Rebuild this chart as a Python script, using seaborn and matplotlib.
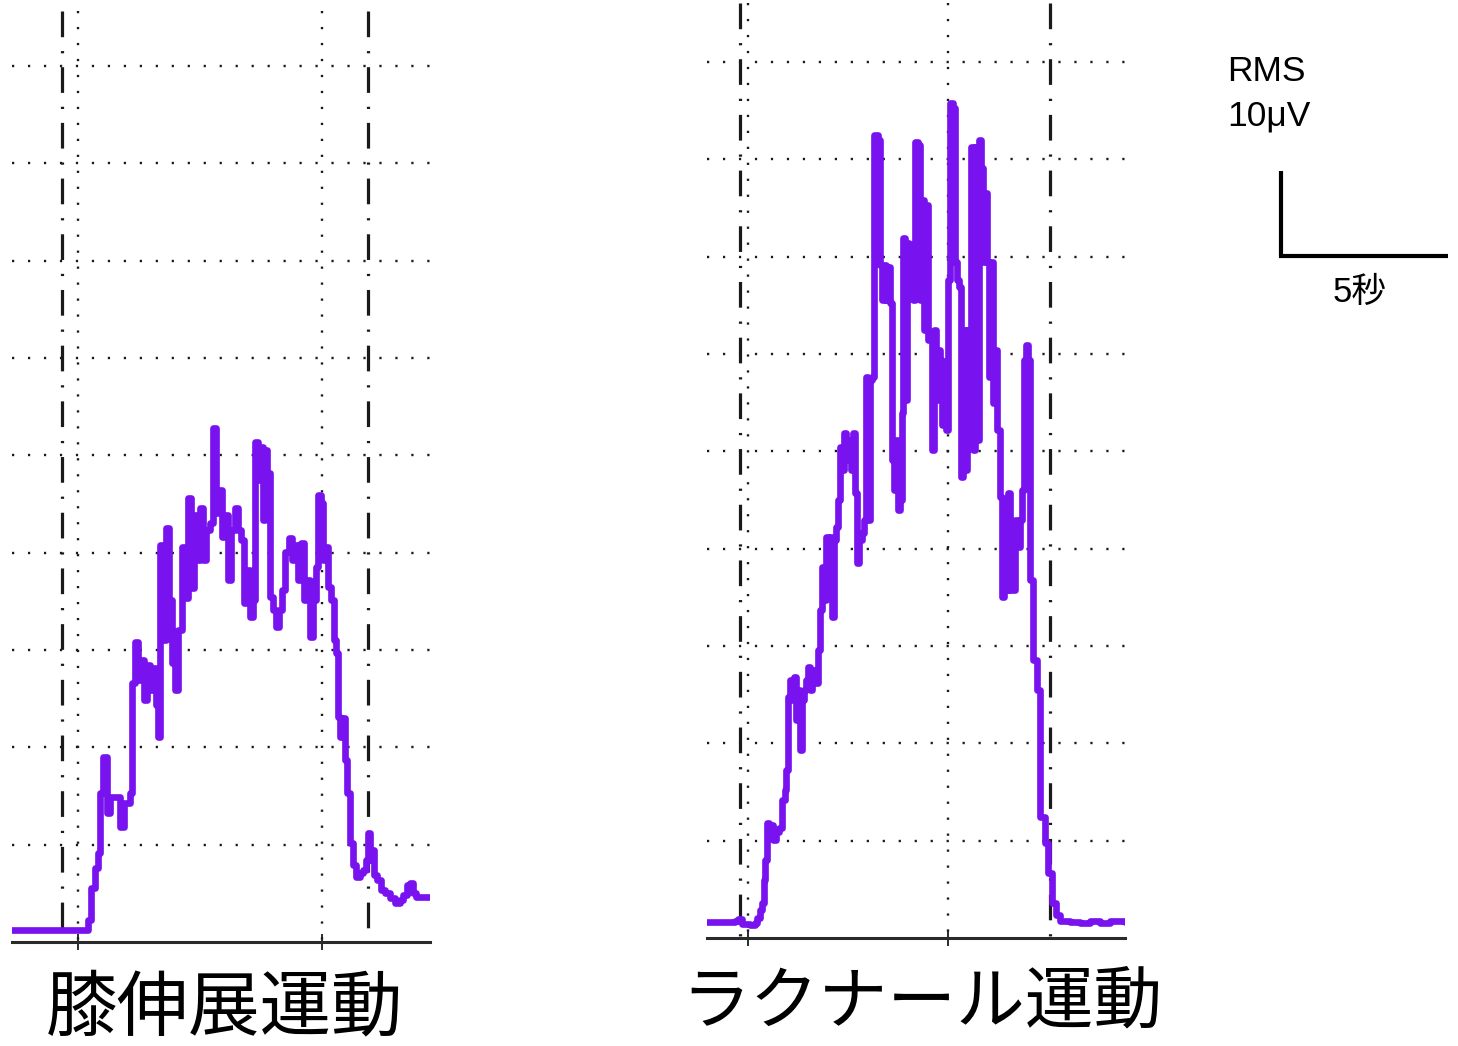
import numpy as np
import matplotlib
matplotlib.use("Agg")
import matplotlib.pyplot as plt
import seaborn as sns

# ---- RMS envelopes: time (s) and amplitude (µV) ----
knee_t = [0.00, 2.19, 2.28, 2.37, 2.49, 2.57, 2.63, 2.72, 2.81, 2.84, 2.93, 3.14, 3.23, 3.35,
          3.53, 3.59, 3.68, 3.77, 3.86, 3.95, 4.04, 4.13, 4.22, 4.31, 4.37, 4.43, 4.52, 4.61,
          4.70, 4.79, 4.88, 4.97, 5.09, 5.18, 5.27, 5.36, 5.45, 5.54, 5.63, 5.72, 5.81, 5.93,
          6.02, 6.11, 6.20, 6.29, 6.38, 6.47, 6.56, 6.68, 6.77, 6.86, 6.95, 7.04, 7.13, 7.22,
          7.28, 7.37, 7.43, 7.51, 7.57, 7.63, 7.72, 7.81, 7.90, 7.99, 8.08, 8.17, 8.29, 8.38,
          8.47, 8.56, 8.65, 8.74, 8.83, 8.92, 9.01, 9.10, 9.16, 9.25, 9.31, 9.37, 9.46, 9.55,
          9.64, 9.70, 9.76, 9.82, 9.88, 9.97, 10.03, 10.12, 10.21, 10.30, 10.42, 10.51, 10.60,
          10.66, 10.72, 10.78, 10.84, 10.93, 11.05, 11.17, 11.32, 11.47, 11.62, 11.71, 11.83,
          11.92, 12.01, 12.10, 12.51]
knee_uv = [1.4, 1.4, 2.6, 6.4, 8.7, 10.5, 17.5, 21.8, 21.8, 15.2, 17.1, 17.1, 13.5, 16.4,
           17.5, 30.5, 35.3, 30.8, 33.2, 28.5, 32.6, 29.6, 32.2, 27.9, 24.1, 46.7, 35.5, 48.7,
           40.2, 32.8, 29.6, 36.7, 46.5, 40.5, 52.2, 41.6, 50.2, 44.9, 51.1, 44.9, 48.5, 49.3,
           60.5, 50.5, 53.2, 47.6, 50.2, 42.6, 48.5, 51.1, 48.5, 47.3, 39.9, 43.8, 38.2, 40.2,
           58.8, 54.4, 58.2, 49.6, 57.9, 55.2, 40.6, 39.1, 37.1, 39.1, 41.4, 45.9, 47.5, 44.9,
           46.7, 42.6, 46.9, 40.2, 42.6, 35.9, 40.2, 44.1, 52.6, 51.6, 44.9, 46.5, 41.8, 40.2,
           35.5, 34.0, 26.5, 24.1, 26.4, 21.4, 17.5, 11.6, 9.1, 7.6, 8.1, 8.5, 9.6,
           12.8, 9.6, 10.8, 7.9, 7.3, 6.1, 5.8, 5.2, 4.6, 4.9, 5.5, 6.7,
           6.9, 5.8, 5.3, 5.3]

lacnar_t = [0.00, 0.69, 0.84, 0.93, 1.05, 1.29, 1.44, 1.50, 1.59, 1.65, 1.71, 1.74, 1.80, 1.86,
            1.92, 1.98, 2.07, 2.16, 2.25, 2.34, 2.37, 2.43, 2.49, 2.54, 2.60, 2.66, 2.72, 2.78,
            2.84, 2.90, 2.96, 3.02, 3.08, 3.14, 3.23, 3.32, 3.38, 3.44, 3.50, 3.56, 3.62, 3.68,
            3.74, 3.80, 3.86, 3.92, 3.98, 4.04, 4.10, 4.16, 4.22, 4.31, 4.37, 4.43, 4.49, 4.55,
            4.64, 4.70, 4.76, 4.82, 4.88, 4.94, 5.00, 5.06, 5.12, 5.18, 5.24, 5.30, 5.36, 5.42,
            5.48, 5.54, 5.60, 5.66, 5.72, 5.78, 5.84, 5.87, 5.93, 5.99, 6.05, 6.11, 6.17, 6.23,
            6.32, 6.38, 6.44, 6.50, 6.56, 6.62, 6.68, 6.74, 6.80, 6.86, 6.92, 6.98, 7.04, 7.10,
            7.16, 7.22, 7.28, 7.37, 7.43, 7.49, 7.54, 7.60, 7.66, 7.72, 7.78, 7.84, 7.90, 7.96,
            8.02, 8.08, 8.14, 8.20, 8.26, 8.32, 8.38, 8.44, 8.50, 8.56, 8.62, 8.68, 8.77, 8.83,
            8.89, 8.95, 9.01, 9.07, 9.16, 9.22, 9.31, 9.37, 9.43, 9.49, 9.55, 9.61, 9.67, 9.76,
            9.88, 9.97, 10.12, 10.21, 10.33, 10.45, 10.57, 10.87, 11.17, 11.47, 11.77, 12.07,
            12.51]
lacnar_uv = [1.9, 1.9, 2.0, 2.2, 1.6, 1.5, 1.8, 2.4, 3.3, 4.1, 6.8, 9.2, 13.5, 12.1,
             13.3, 11.5, 12.5, 12.9, 16.2, 17.4, 19.8, 28.4, 30.4, 28.0, 30.7, 25.6, 29.2, 22.1,
             28.0, 29.2, 30.4, 31.9, 29.2, 31.5, 30.0, 33.9, 38.6, 43.6, 39.8, 47.2, 44.5, 47.2,
             37.8, 46.8, 48.4, 51.5, 57.8, 55.1, 59.4, 56.2, 58.6, 55.1, 59.4, 52.4, 44.1, 46.8,
             47.6, 49.2, 66.0, 49.2, 65.6, 66.0, 94.5, 94.5, 93.9, 79.2, 75.1, 79.2, 75.1, 78.9,
             74.7, 56.2, 52.7, 58.6, 50.4, 51.5, 61.8, 82.4, 63.3, 81.8, 76.2, 80.9, 75.1, 93.6,
             93.3, 75.1, 86.8, 71.5, 86.2, 70.4, 71.2, 57.4, 71.5, 63.3, 69.2, 68.0, 60.4, 67.6,
             59.8, 77.4, 98.2, 97.6, 79.5, 77.4, 76.6, 54.2, 71.5, 55.1, 71.5, 63.3, 93.1, 57.4,
             93.1, 58.6, 93.9, 90.6, 79.5, 87.6, 79.5, 66.0, 79.5, 62.9, 69.2, 59.8, 51.9, 40.1,
             51.5, 40.9, 52.4, 40.9, 40.9, 49.2, 46.0, 49.2, 52.7, 68.0, 69.8, 68.0, 42.1, 32.7,
             29.2, 14.2, 11.2, 7.6, 4.1, 2.7, 2.0, 1.9, 1.8, 2.0, 1.8, 2.0,
             1.9]

# event markers (s)
knee_dashdot = [1.50, 10.66]
knee_dotted = [1.98, 9.28]
lacnar_dashdot = [0.99, 10.27]
lacnar_dotted = [1.23, 7.22]

panel_labels = ["膝伸展運動", "ラクナール運動"]
scale_amp_label = ["RMS", "10μV"]
scale_time_label = "5秒"
scale_uv = 10
scale_s = 5

# ---- styling ----
SPAN = 12.51          # seconds shown per panel
GRID_UV = 11.45       # vertical grid step (µV)
PURPLE = "#7812EE"
INK = "#1a1a1a"

sns.set_theme(style="white")
plt.rcParams["font.family"] = ["Liberation Sans", "Noto Sans CJK JP", "DejaVu Sans"]
plt.rcParams["lines.scale_dashes"] = False

W, H = 1458, 1046
fig = plt.figure(figsize=(W / 100, H / 100), dpi=100)
fig.patch.set_facecolor("white")


def px_axes(x0, x1, y_zero, ylo, yhi, px_per_uv=8.5):
    """Axes placed so that y=0 sits at pixel row y_zero (from top)."""
    top = y_zero - yhi * px_per_uv
    bottom = y_zero - ylo * px_per_uv
    return fig.add_axes([x0 / W, 1 - bottom / H, (x1 - x0) / W, (bottom - top) / H])


def draw_panel(ax, t, uv, dashdot, dotted, ytop):
    ax.set_xlim(0, SPAN)
    ax.set_ylim(-2, ytop)
    dot_style = (0, (1.6, 9.9))
    for k in range(1, 10):
        ax.plot([0, SPAN], [k * GRID_UV] * 2, color=INK, lw=1.7, ls=dot_style,
                solid_capstyle="butt", dash_capstyle="butt", zorder=1)
    for x in dotted:
        ax.plot([x, x], [ytop, 0], color=INK, lw=1.7, ls=dot_style,
                dash_capstyle="butt", zorder=1)
    for x in dashdot:
        ax.plot([x, x], [ytop, 0], color=INK, lw=2.3, ls=(0, (18.5, 10.0, 1.6, 10.0)),
                dash_capstyle="butt", zorder=1)
    sns.lineplot(x=t, y=uv, ax=ax, color=PURPLE, lw=4.8, drawstyle="steps-post",
                 estimator=None, sort=False, zorder=3)
    for side in ("left", "right", "top"):
        ax.spines[side].set_visible(False)
    ax.spines["bottom"].set_position(("data", 0))
    ax.spines["bottom"].set_color("#2a2a2a")
    ax.spines["bottom"].set_linewidth(2.2)
    ax.set_xticks(dotted)
    ax.tick_params(axis="x", direction="inout", length=11, width=1.3, color=INK,
                   bottom=True, labelbottom=False)
    ax.set_yticks([])
    ax.set_xlabel("")
    ax.set_ylabel("")
    ax.patch.set_alpha(0)


ax_knee = px_axes(12, 430, 942, -2, 109.5)
draw_panel(ax_knee, knee_t, knee_uv, knee_dashdot, knee_dotted, 109.5)

ax_lac = px_axes(707, 1125, 938, -2, 110.0)
draw_panel(ax_lac, lacnar_t, lacnar_uv, lacnar_dashdot, lacnar_dotted, 110.0)

# panel captions
cjk = ["Noto Sans CJK JP", "DejaVu Sans"]
fig.text(225 / W, 1 - 1029 / H, panel_labels[0], ha="center", va="baseline",
         fontsize=51.5, family=cjk, color="black")
fig.text(922 / W, 1 - 1022 / H, panel_labels[1], ha="center", va="baseline",
         fontsize=49.5, family=cjk, color="black")

# calibration bar: 10 µV vertical, 5 s horizontal
ax_sc = fig.add_axes([1281 / W, 1 - 266 / H, (W - 1281) / W, 106 / H])
ax_sc.set_xlim(0, (W - 1281) / 33.4)
ax_sc.set_ylim(-10 / 8.5, 96 / 8.5)
ax_sc.plot([0, 0, scale_s], [scale_uv, 0, 0], color="black", lw=3.0,
           solid_joinstyle="miter", solid_capstyle="butt", clip_on=False)
ax_sc.axis("off")

latin = ["Liberation Sans", "Noto Sans CJK JP", "DejaVu Sans"]
fig.text(1227 / W, 1 - 81 / H, scale_amp_label[0], ha="left", va="baseline",
         fontsize=25.5, family=latin, color="black")
fig.text(1227 / W, 1 - 125 / H, scale_amp_label[1], ha="left", va="baseline",
         fontsize=25.5, family=latin, color="black")
fig.text(1360 / W, 1 - 302 / H, scale_time_label, ha="center", va="baseline",
         fontsize=25, family=latin, color="black")

fig.savefig("out.png", dpi=100, facecolor="white")
